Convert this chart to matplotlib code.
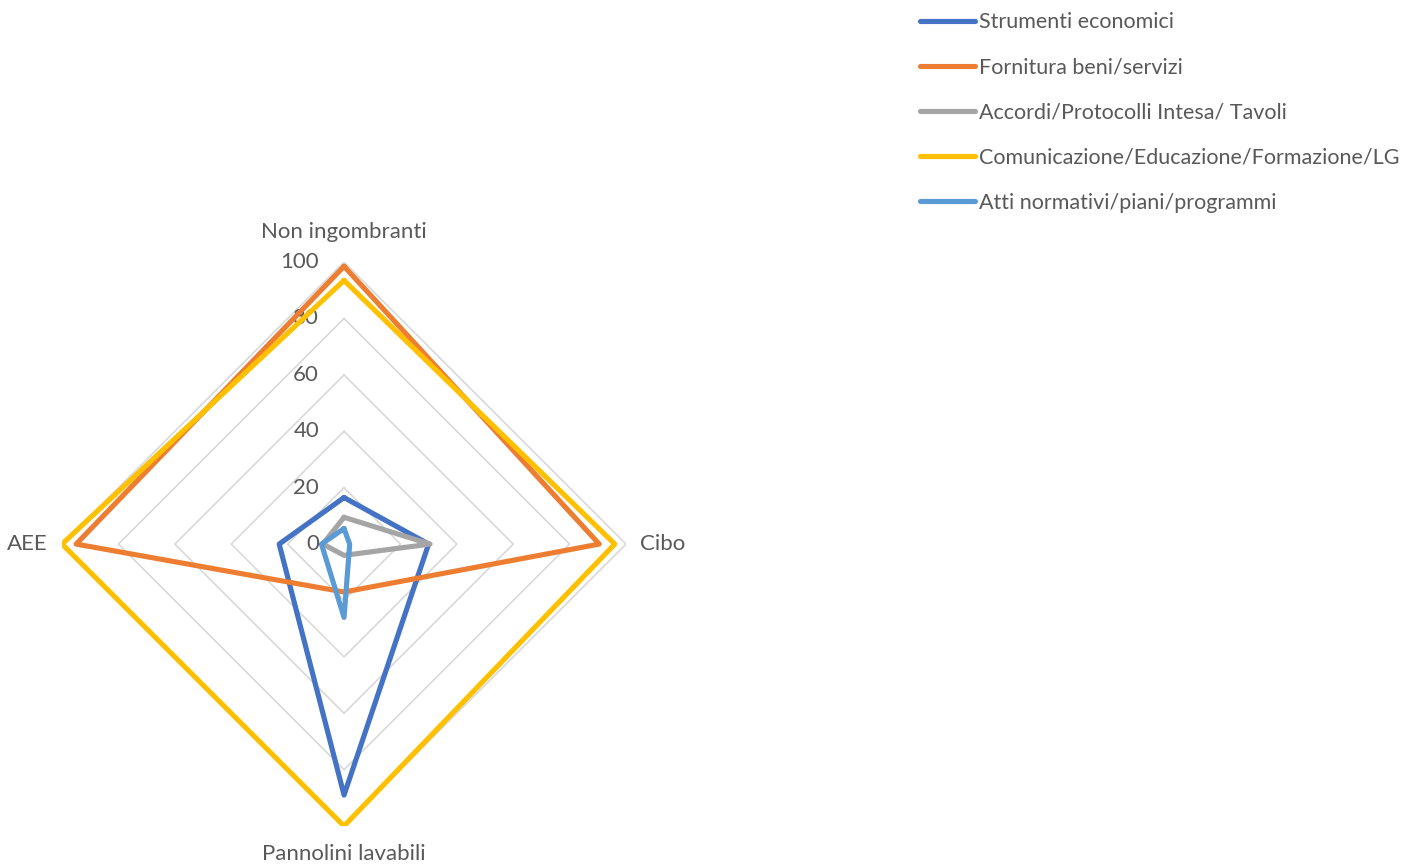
import numpy as np
import matplotlib
matplotlib.use('Agg')
import matplotlib.pyplot as plt

categories = ['Non ingombranti', 'Cibo', 'Pannolini lavabili', 'AEE']
series_names = ['Strumenti economici', 'Fornitura beni/servizi',
                'Accordi/Protocolli Intesa/ Tavoli',
                'Comunicazione/Educazione/Formazione/LG',
                'Atti normativi/piani/programmi']
strumenti = [16.5, 30, 89, 23]
fornitura = [98.5, 90.5, 17, 95]
accordi = [9.5, 30.5, 4, 7.5]
comunicazione = [93.5, 96, 100, 100]
atti = [5.5, 2, 26, 8]
series_values = [strumenti, fornitura, accordi, comunicazione, atti]
colors = ['#4472C4', '#ED7D31', '#A5A5A5', '#FFC000', '#5B9BD5']
levels = [0, 20, 40, 60, 80, 100]

txt = '#595959'
plt.rcParams['font.family'] = ['Lato', 'DejaVu Sans']
fs = 16
leg_fs = 15.5

fig = plt.figure(figsize=(14.1, 8.65), dpi=100)
ax = fig.add_axes([0.044, 0.045, 0.4, 0.652], projection='polar')
ax.set_theta_offset(np.pi / 2)
ax.set_theta_direction(-1)

angles = np.arange(len(categories)) * 2 * np.pi / len(categories)
closed = np.append(angles, angles[0])

# straight (Excel-like) gridlines
for lv in levels[1:]:
    ax.plot(closed, [lv] * len(closed), color='#D9D9D9', lw=1.2, zorder=1)

for vals, col, name in zip(series_values, colors, series_names):
    ax.plot(closed, vals + vals[:1], color=col, lw=3.7, label=name,
            solid_joinstyle='round', solid_capstyle='round', zorder=3)

ax.set_ylim(0, 100)
ax.grid(False)
ax.set_xticks([])
ax.set_yticks([])
ax.spines['polar'].set_visible(False)

for lv in levels:
    ax.annotate(str(lv), xy=(0, lv), xytext=(-25, 0), textcoords='offset pixels',
                ha='right', va='center', fontsize=fs, color=txt, zorder=2)

ax.text(angles[0], 110.5, categories[0], ha='center', va='center', fontsize=fs, color=txt, clip_on=False)
ax.text(angles[1], 105, categories[1], ha='left', va='center', fontsize=fs, color=txt, clip_on=False)
ax.text(angles[2], 110, categories[2], ha='center', va='center', fontsize=fs, color=txt, clip_on=False)
ax.text(angles[3], 105, categories[3], ha='right', va='center', fontsize=fs, color=txt, clip_on=False)

leg = fig.legend(loc='upper left', bbox_to_anchor=(0.6465, 0.9957), frameon=False,
                 fontsize=leg_fs, handlelength=2.54, handletextpad=0.18, labelspacing=1.165,
                 borderaxespad=0.0)
for t in leg.get_texts():
    t.set_color(txt)
for h in leg.get_lines():
    h.set_linewidth(3.7)
    h.set_solid_capstyle('round')

plt.savefig('out.png', dpi=100)
plt.close()
